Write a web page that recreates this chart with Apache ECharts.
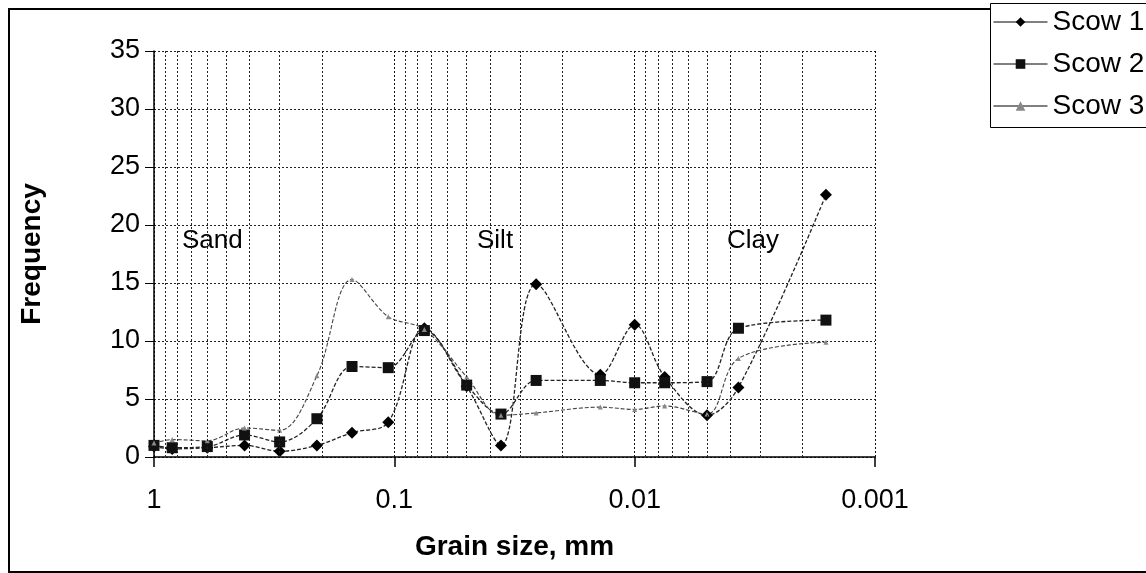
<!DOCTYPE html>
<html>
<head>
<meta charset="utf-8">
<script src="https://cdn.jsdelivr.net/npm/echarts@6/dist/echarts.min.js"></script>
<style>
html,body{margin:0;padding:0;background:#fff;}
#c{width:1146px;height:573px;}
</style>
</head>
<body>
<div id="c"></div>
<script>
// Grain size (mm) of each sieve / hydrometer reading
const sizes = [1.0, 0.84, 0.6, 0.42, 0.3, 0.21, 0.15, 0.106, 0.075, 0.05, 0.036, 0.0257, 0.0139, 0.01, 0.0075, 0.005, 0.0037, 0.0016];
// Frequency values
const scow1 = [0.9, 0.7, 0.8, 1.0, 0.5, 1.0, 2.1, 3.0, 11.1, 6.1, 1.0, 14.9, 7.1, 11.4, 6.9, 3.6, 6.0, 22.6];
const scow2 = [1.0, 0.8, 0.9, 1.9, 1.3, 3.3, 7.8, 7.7, 10.9, 6.2, 3.7, 6.6, 6.6, 6.4, 6.4, 6.5, 11.1, 11.8];
const scow3 = [1.2, 1.5, 1.4, 2.5, 2.3, 7.0, 15.3, 12.1, 11.0, 6.9, 3.6, 3.8, 4.3, 4.1, 4.4, 3.7, 8.5, 9.9];
const seriesNames = ['Scow 1', 'Scow 2', 'Scow 3'];
// Log-axis minor gridline positions
const minorGrid = [0.9, 0.8, 0.7, 0.6, 0.5, 0.4, 0.3, 0.2,
                   0.09, 0.08, 0.07, 0.06, 0.05, 0.04, 0.03, 0.02,
                   0.009, 0.008, 0.007, 0.006, 0.005, 0.004, 0.003, 0.002];
const yTicks = {min: 0, max: 35, interval: 5};
const zoneLabels = ['Sand', 'Silt', 'Clay'];

const FONT = "'Liberation Sans', Arial, sans-serif";
const pair = (vals) => sizes.map((s, i) => [s, vals[i]]);

const chart = echarts.init(document.getElementById('c'), null, {renderer: 'canvas'});
const lineBase = {
  type: 'line',
  smooth: 0.35,
  lineStyle: {color: '#222', width: 1.3, type: [4, 2]},
  z: 3
};
chart.setOption({
  animation: false,
  backgroundColor: '#fff',
  textStyle: {fontFamily: FONT},
  grid: {left: 154, right: 271, top: 51, bottom: 116, containLabel: false},
  xAxis: {
    type: 'log', logBase: 10, min: 0.001, max: 1, inverse: true,
    name: 'Grain size, mm', nameLocation: 'middle', nameGap: 76,
    nameTextStyle: {fontFamily: FONT, fontSize: 28, fontWeight: 'bold', color: '#000'},
    axisLine: {show: true, onZero: false, lineStyle: {color: '#000', width: 1.5}},
    axisTick: {show: true, length: 10, lineStyle: {color: '#000', width: 1.5}},
    axisLabel: {fontFamily: FONT, fontSize: 27, color: '#000', margin: 30,
      formatter: function (v) { return String(v); }},
    splitLine: {show: true, lineStyle: {color: '#111', width: 1, type: [2, 2]}}
  },
  yAxis: {
    type: 'value', min: yTicks.min, max: yTicks.max, interval: yTicks.interval,
    name: 'Frequency', nameLocation: 'middle', nameGap: 108,
    nameTextStyle: {fontFamily: FONT, fontSize: 28, fontWeight: 'bold', color: '#000'},
    axisLine: {show: true, lineStyle: {color: '#000', width: 1.5}},
    axisTick: {show: true, length: 9, inside: false, lineStyle: {color: '#000'}},
    axisLabel: {fontFamily: FONT, fontSize: 27, color: '#000', margin: 14},
    splitLine: {show: true, lineStyle: {color: '#222', width: 1, type: [2, 2]}}
  },
  legend: {
    orient: 'vertical', left: 990, top: 3,
    data: seriesNames,
    itemWidth: 54, itemHeight: 12, itemGap: 14,
    padding: [5, 5, 7, 3],
    backgroundColor: 'transparent', borderWidth: 0,
    textStyle: {fontFamily: FONT, fontSize: 28, color: '#000', lineHeight: 28},
    lineStyle: {type: 'solid', color: '#000', width: 1},
    z: 10
  },
  graphic: [
    {type: 'rect', z: -1, silent: true,
     shape: {x: 9, y: 9, width: 1150, height: 563},
     style: {fill: 'none', stroke: '#000', lineWidth: 2}},
    {type: 'rect', z: 4, silent: true,
     shape: {x: 990.5, y: 3.5, width: 200, height: 124},
     style: {fill: '#fff', stroke: '#000', lineWidth: 1}},
    {type: 'text', left: 182, top: 228, z: 5, style: {text: zoneLabels[0], font: "26px 'Liberation Sans', Arial", fill: '#000'}},
    {type: 'text', left: 477, top: 228, z: 5, style: {text: zoneLabels[1], font: "26px 'Liberation Sans', Arial", fill: '#000'}},
    {type: 'text', left: 727, top: 228, z: 5, style: {text: zoneLabels[2], font: "26px 'Liberation Sans', Arial", fill: '#000'}}
  ],
  series: [
    {
      type: 'line', name: '_grid', data: [], silent: true, z: 1,
      markLine: {
        silent: true, symbol: ['none', 'none'], animation: false, precision: 6,
        label: {show: false},
        lineStyle: {color: '#222', width: 1, type: [2, 2]},
        data: minorGrid.map(v => [{coord: [v, yTicks.min]}, {coord: [v, yTicks.max]}])
      }
    },
    Object.assign({}, lineBase, {
      name: seriesNames[0], data: pair(scow1),
      symbol: 'diamond', symbolSize: 12,
      itemStyle: {color: '#000'}
    }),
    Object.assign({}, lineBase, {
      name: seriesNames[1], data: pair(scow2),
      symbol: 'rect', symbolSize: 11,
      itemStyle: {color: '#111'}
    }),
    Object.assign({}, lineBase, {
      name: seriesNames[2], data: pair(scow3),
      symbol: 'triangle', symbolSize: 5,
      lineStyle: {color: '#444', width: 1.1, type: [4, 2]},
      itemStyle: {color: '#888'}
    })
  ]
});
</script>
</body>
</html>
